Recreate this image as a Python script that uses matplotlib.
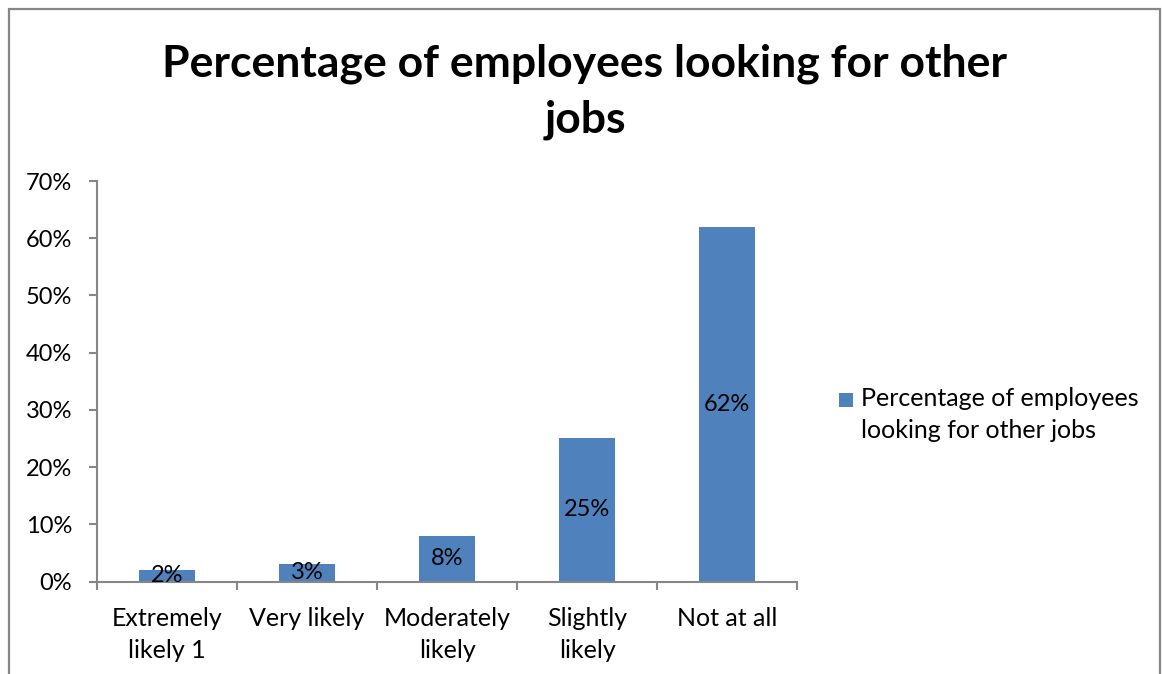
import matplotlib
matplotlib.use("Agg")
import matplotlib.pyplot as plt
from matplotlib.patches import Rectangle
from matplotlib.ticker import FixedLocator, PercentFormatter

categories = ["Extremely\nlikely 1", "Very likely", "Moderately\nlikely", "Slightly\nlikely", "Not at all"]
values = [2, 3, 8, 25, 62]
yticks = [0, 10, 20, 30, 40, 50, 60, 70]
title = "Percentage of employees looking for other\njobs"
series_name = "Percentage of employees\nlooking for other jobs"

BAR = "#4F81BD"
AXIS = "#868686"
plt.rcParams["font.family"] = ["Lato", "DejaVu Sans"]

W, H, DPI = 1162, 674, 100
fig = plt.figure(figsize=(W / DPI, H / DPI), dpi=DPI)
fig.patch.set_facecolor("white")

# outer chart frame
fig.add_artist(Rectangle((9 / W, -0.05), (1160 - 9) / W, 1 - 9 / H + 0.05,
                         transform=fig.transFigure, fill=False,
                         edgecolor=AXIS, linewidth=1.6))

ax = fig.add_axes([97 / W, 1 - 581.5 / H, 700 / W, 400.5 / H])
x = list(range(len(categories)))
bars = ax.bar(x, values, width=0.4, color=BAR, zorder=2)

ax.set_xlim(-0.5, len(categories) - 0.5)
ax.set_ylim(0, 70)
ax.yaxis.set_major_locator(FixedLocator(yticks))
ax.yaxis.set_major_formatter(PercentFormatter(decimals=0))

for s in ["top", "right"]:
    ax.spines[s].set_visible(False)
for s in ["left", "bottom"]:
    ax.spines[s].set_color(AXIS)
    ax.spines[s].set_linewidth(1.5)

ax.tick_params(axis="y", length=6, width=1.5, color=AXIS, pad=12,
               labelsize=17, labelcolor="black")
# category boundary ticks, labels at category centres
ax.set_xticks([i - 0.5 for i in range(len(categories) + 1)])
ax.set_xticklabels([])
ax.set_xticks(x, minor=True)
ax.set_xticklabels(categories, minor=True)
ax.tick_params(axis="x", which="major", length=6, width=1.5, color=AXIS,
               direction="out")
ax.tick_params(axis="x", which="minor", length=0, pad=18, labelsize=18,
               labelcolor="black")
for lbl in ax.get_xticklabels(minor=True):
    lbl.set_linespacing(1.5)

for rect, v in zip(bars, values):
    ax.text(rect.get_x() + rect.get_width() / 2, v / 2, f"{v}%",
            ha="center", va="center", fontsize=17, color="black", zorder=3)

fig.text(585 / W, 1 - 133 / H, title, ha="center", va="baseline",
         fontsize=32, fontweight="bold", linespacing=1.5)

# legend
fig.add_artist(Rectangle((839 / W, 1 - 407 / H), 14 / W, 14 / H,
                         transform=fig.transFigure, facecolor=BAR,
                         edgecolor="none"))
fig.text(861 / W, 1 - 438 / H, series_name, ha="left", va="baseline",
         fontsize=18, linespacing=1.5)

fig.savefig("out.png", dpi=DPI)
